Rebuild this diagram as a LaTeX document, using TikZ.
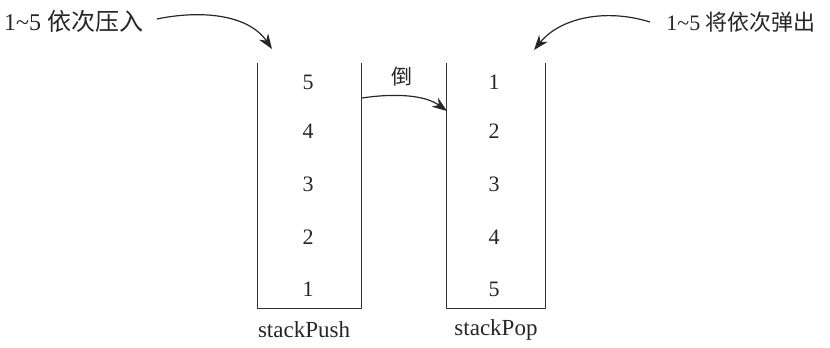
\documentclass[tikz,border=0pt]{standalone}
\usepackage{fontspec}
\setmainfont{Liberation Serif}
\newfontfamily\cjk{Noto Sans CJK SC}
\usetikzlibrary{arrows.meta}
\begin{document}
\begin{tikzpicture}[x=1pt,y=-1pt,
  wall/.style={draw=black!80,line width=1pt},
  num/.style={font=\fontsize{22}{24}\selectfont,text=black!85},
  lbl/.style={font=\fontsize{23}{26}\selectfont,text=black!85},
  top/.style={font=\fontsize{24}{27}\selectfont,text=black!85},
  curv/.style={draw=black!85,line width=1.2pt,-{Stealth[length=15pt,width=11pt]}}]
\useasboundingbox (0,0) rectangle (830,348);
% stacks
\coordinate (pTL) at (257,63); \coordinate (pBL) at (257,308);
\coordinate (pTR) at (361,63); \coordinate (pBR) at (361,308);
\coordinate (qTL) at (446,63); \coordinate (qBL) at (446,308);
\coordinate (qTR) at (545,63); \coordinate (qBR) at (545,308);
\draw[wall] (pTL) -- (pBL) -- (pBR) -- (pTR);
\draw[wall] (qTL) -- (qBL) -- (qBR) -- (qTR);
% numbers
\foreach \v/\y [count=\i] in {5/82,4/131,3/184,2/237,1/289}
  \node[num] (p\i) at (308,\y) {\v};
\foreach \v/\y [count=\i] in {1/82,2/131,3/184,4/237,5/289}
  \node[num] (q\i) at (494,\y) {\v};
\node[lbl] (pname) at (304,330) {stackPush};
\node[lbl] (qname) at (496,330) {stackPop};
% labels
\node[top,anchor=west,inner sep=0pt] (push) at (4,21) {1\textasciitilde5 {\cjk 依次压入}};
\node[top,font=\fontsize{22}{25}\selectfont,anchor=east,inner sep=0pt] (pop) at (816,22) {1\textasciitilde5 {\cjk 将依次弹出}};
\node[font=\cjk\fontsize{21}{24}\selectfont,text=black!85] (dao) at (402,77) {倒};
% arrows
\coordinate (pushS) at (157,19);
\coordinate (pushE) at (272,49);
\coordinate (popS) at (650,22);
\coordinate (popE) at (534,50);
\coordinate (daoS) at (362,98);
\coordinate (daoE) at (447,111);
\draw[curv] (pushS) .. controls (200,10) and (248,14) .. (pushE);
\draw[curv] (popS) .. controls (605,8) and (560,18) .. (popE);
\draw[curv] (daoS) .. controls (395,93) and (425,95) .. (daoE);
\end{tikzpicture}
\end{document}
